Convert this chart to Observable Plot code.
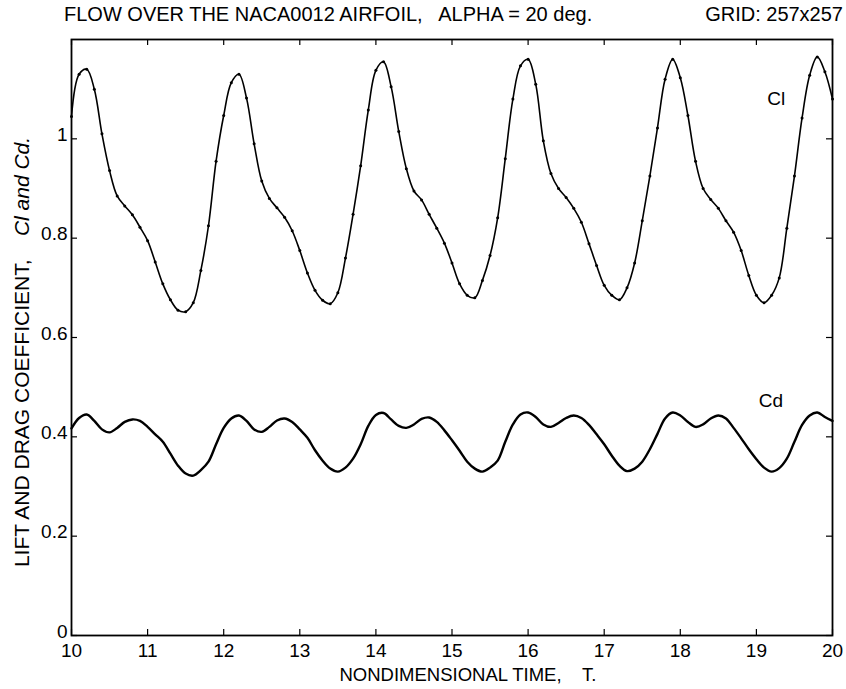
<!DOCTYPE html>
<html>
<head>
<meta charset="utf-8">
<script src="https://cdn.jsdelivr.net/npm/d3@7"></script>
<script src="https://cdn.jsdelivr.net/npm/@observablehq/plot@0.6"></script>
<style>
  html, body { margin: 0; padding: 0; background: #fff; }
  #title { position: relative; width: 846px; height: 28px; font-family: "Liberation Sans", Arial, sans-serif; font-size: 20px; color: #000; }
  #title .left { position: absolute; left: 64px; top: 3px; white-space: pre; }
  #title .right { position: absolute; right: 3px; top: 3px; white-space: pre; }
</style>
</head>
<body>
<div id="title"><span class="left">FLOW OVER THE NACA0012 AIRFOIL,   ALPHA = 20 deg.</span><span class="right">GRID: 257x257</span></div>
<div id="chart"></div>
<script>
const time = [10.0,10.1,10.2,10.3,10.4,10.5,10.6,10.7,10.8,10.9,11.0,11.1,11.2,11.3,11.4,11.5,11.6,11.7,11.8,11.9,
  12.0,12.1,12.2,12.3,12.4,12.5,12.6,12.7,12.8,12.9,13.0,13.1,13.2,13.3,13.4,13.5,13.6,13.7,13.8,13.9,
  14.0,14.1,14.2,14.3,14.4,14.5,14.6,14.7,14.8,14.9,15.0,15.1,15.2,15.3,15.4,15.5,15.6,15.7,15.8,15.9,
  16.0,16.1,16.2,16.3,16.4,16.5,16.6,16.7,16.8,16.9,17.0,17.1,17.2,17.3,17.4,17.5,17.6,17.7,17.8,17.9,
  18.0,18.1,18.2,18.3,18.4,18.5,18.6,18.7,18.8,18.9,19.0,19.1,19.2,19.3,19.4,19.5,19.6,19.7,19.8,19.9,20.0];

const cl = [1.045,1.13,1.14,1.10,1.01,0.936,0.885,0.865,0.847,0.822,0.795,0.752,0.708,0.676,0.655,0.652,0.67,0.735,0.825,0.955,
  1.047,1.113,1.13,1.082,0.99,0.915,0.88,0.861,0.842,0.815,0.775,0.73,0.695,0.675,0.668,0.69,0.76,0.848,0.946,1.058,
  1.138,1.155,1.105,1.015,0.94,0.895,0.877,0.848,0.82,0.79,0.75,0.708,0.685,0.68,0.715,0.765,0.841,0.96,1.08,1.147,
  1.16,1.11,0.996,0.93,0.90,0.882,0.86,0.832,0.789,0.745,0.705,0.685,0.676,0.70,0.75,0.835,0.925,1.022,1.12,1.16,
  1.123,1.047,0.955,0.90,0.878,0.86,0.835,0.812,0.775,0.725,0.685,0.67,0.685,0.72,0.82,0.925,1.042,1.128,1.165,1.135,1.08];

const cd = [0.417,0.438,0.445,0.432,0.415,0.409,0.418,0.43,0.435,0.432,0.42,0.405,0.39,0.366,0.342,0.326,0.322,0.333,0.35,0.385,
  0.418,0.437,0.443,0.432,0.415,0.41,0.42,0.433,0.437,0.43,0.415,0.398,0.373,0.352,0.336,0.33,0.338,0.356,0.385,0.422,
  0.444,0.448,0.435,0.422,0.418,0.425,0.436,0.439,0.43,0.413,0.393,0.372,0.35,0.336,0.33,0.338,0.352,0.39,0.425,0.445,
  0.449,0.44,0.425,0.42,0.428,0.438,0.443,0.438,0.424,0.405,0.385,0.362,0.342,0.331,0.336,0.35,0.375,0.406,0.437,0.449,
  0.443,0.43,0.42,0.425,0.437,0.443,0.437,0.418,0.397,0.375,0.355,0.338,0.33,0.337,0.356,0.39,0.424,0.443,0.449,0.44,0.432];

const xTicks = [10,11,12,13,14,15,16,17,18,19,20];
const yTicks = [0,0.2,0.4,0.6,0.8,1];
const yTickLabels = ["0","0.2","0.4","0.6","0.8","1"];
const seriesLabels = [
  {name: "Cl", t: 19.26, v: 1.08},
  {name: "Cd", t: 19.19, v: 0.473}
];

const clData = time.map((t, i) => ({t, v: cl[i]}));
const cdData = time.map((t, i) => ({t, v: cd[i]}));

const font = '"Liberation Sans", Arial, sans-serif';
const W = 846, H = 661;
const mL = 71, mR = 14, mT = 11, mB = 54;
const frameW = W - mL - mR, frameH = H - mT - mB;
const tickLen = 6;

const chart = Plot.plot({
  width: W,
  height: H,
  marginLeft: mL,
  marginRight: mR,
  marginTop: mT,
  marginBottom: mB,
  style: {fontFamily: font, fontSize: "19px", color: "#000", background: "#fff"},
  x: {domain: [10, 20], label: null},
  y: {domain: [0, 1.2], label: null},
  marks: [
    // tick labels
    Plot.axisX({anchor: "bottom", ticks: xTicks, tickSize: 0, tickPadding: 8, tickFormat: d => String(d), fontSize: 19, label: null}),
    Plot.axisY({anchor: "left", ticks: yTicks, tickSize: 0, tickPadding: 4, dy: -4, tickFormat: d => yTickLabels[yTicks.indexOf(d)] ?? "", fontSize: 19, label: null}),
    // inward tick marks on all four sides
    Plot.ruleX(xTicks, {x: d => d, insetTop: frameH - tickLen, stroke: "#000", strokeWidth: 1.2}),
    Plot.ruleX(xTicks, {x: d => d, insetBottom: frameH - tickLen, stroke: "#000", strokeWidth: 1.2}),
    Plot.ruleY(yTicks, {y: d => d, insetRight: frameW - tickLen, stroke: "#000", strokeWidth: 1.2}),
    Plot.ruleY(yTicks, {y: d => d, insetLeft: frameW - tickLen, stroke: "#000", strokeWidth: 1.2}),
    Plot.frame({stroke: "#000", strokeWidth: 1.8}),
    Plot.line(clData, {x: "t", y: "v", curve: "catmull-rom", stroke: "#000", strokeWidth: 1.6}),
    Plot.dot(clData, {x: "t", y: "v", r: 1.5, fill: "#000", stroke: "none"}),
    Plot.line(cdData, {x: "t", y: "v", curve: "catmull-rom", stroke: "#000", strokeWidth: 2.4}),
    Plot.text(seriesLabels, {x: "t", y: "v", text: "name", fontSize: 19, fill: "#000", textAnchor: "middle"})
  ]
});

const svg = d3.select(chart);
// x axis title
svg.append("text")
  .attr("x", 468).attr("y", H - 8)
  .attr("text-anchor", "middle")
  .attr("font-family", font).attr("font-size", 18.5)
  .text("NONDIMENSIONAL TIME,\u00a0\u00a0\u00a0\u00a0T.");
// y axis title with italic part
const yl = svg.append("text")
  .attr("transform", "translate(29," + (352 - 28) + ") rotate(-90)")
  .attr("text-anchor", "middle")
  .attr("font-family", font).attr("font-size", 21);
yl.append("tspan").text("LIFT AND DRAG COEFFICIENT,\u00a0\u00a0\u00a0\u00a0");
yl.append("tspan").attr("font-style", "italic").text("Cl and Cd.");

document.getElementById("chart").appendChild(chart);
</script>
</body>
</html>
